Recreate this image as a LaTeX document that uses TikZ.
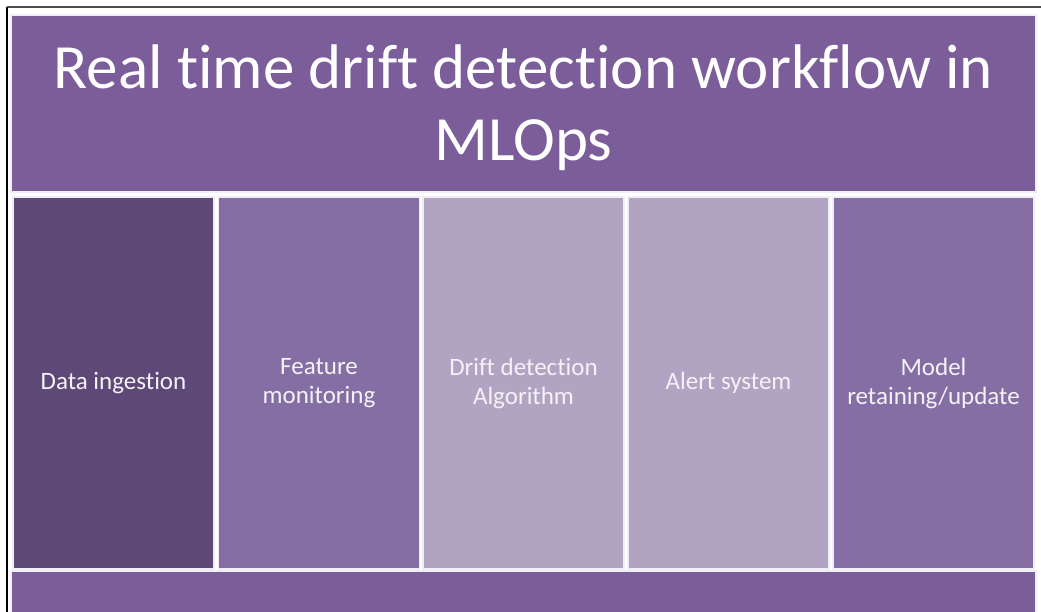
\documentclass[tikz,border=0pt]{standalone}
\usepackage{fontspec}
\setmainfont{Carlito}[Ligatures=NoCommon]
\definecolor{titlepurple}{HTML}{7B5E99}
\definecolor{darkpurple}{HTML}{5E4877}
\definecolor{midpurple}{HTML}{846EA4}
\definecolor{lightpurple}{HTML}{B1A4C3}
\definecolor{boxedge}{HTML}{F2EEF6}
\definecolor{coltext}{HTML}{F4F2F7}
\tikzset{
  panel/.style={draw=boxedge, line width=1.5pt, inner sep=0pt, align=center, text=white},
  colbox/.style={panel, minimum width=201pt, minimum height=372pt, text=coltext,
    font=\fontsize{25}{29}\selectfont},
}
\begin{document}
\begin{tikzpicture}[x=1pt,y=-1pt]
\useasboundingbox (0,0) rectangle (1041,612);
\fill[white] (0,0) rectangle (1041,612);
\coordinate (tl) at (7,7);
\coordinate (tr) at (1041,7);
\coordinate (bl) at (7,612);
\draw[black!70, line width=1.2pt] (tl) -- (tr);
\draw[black, line width=1.2pt] (tl) -- (bl);
\node[panel, fill=titlepurple, minimum width=1025pt, minimum height=177pt] (title) at (523.5,103.5) {};
\node[text=white, align=center, inner sep=0pt, font=\fontsize{63}{72}\selectfont]
  (titletext) at (523.5,107.5) {Real time drift detection workflow in\\MLOps};
\node[colbox, fill=darkpurple] (c1) at (113.5,383) {Data ingestion};
\node[colbox, fill=midpurple] (c2) at (319,383) {Feature\\monitoring};
\node[colbox, fill=lightpurple] (c3) at (523.5,383) {Drift detection\\Algorithm};
\node[colbox, fill=lightpurple] (c4) at (728.5,383) {Alert system};
\node[colbox, fill=midpurple] (c5) at (933.5,383) {Model\\retaining/update};
\fill[titlepurple] (11,571) rectangle (1036,612);
\draw[boxedge, line width=1.5pt] (11,612) -- (11,571) -- (1036,571) -- (1036,612);
\end{tikzpicture}
\end{document}
